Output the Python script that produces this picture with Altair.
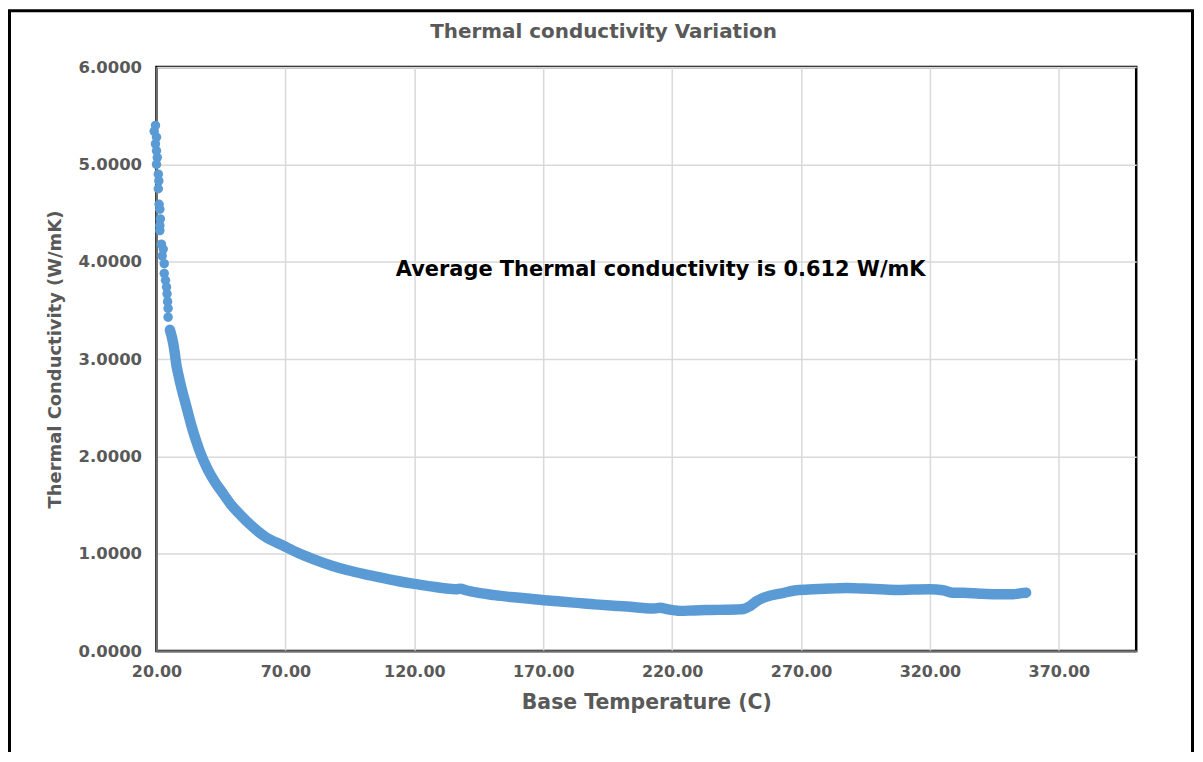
import altair as alt
import pandas as pd

# Sparse early samples (markers only)
sparse_T = [19.6, 19.1, 20.0, 19.6, 20.0, 20.3, 20.0, 20.7, 20.9, 20.7, 21.0, 21.3,
            21.5, 21.3, 21.3, 21.9, 22.6, 22.2, 23.0, 23.0, 23.5, 23.9, 24.1, 24.3,
            24.5, 24.5]
sparse_K = [5.40, 5.34, 5.28, 5.21, 5.14, 5.07, 5.00, 4.90, 4.83, 4.75, 4.59, 4.54,
            4.44, 4.37, 4.32, 4.18, 4.13, 4.06, 3.98, 3.88, 3.81, 3.74, 3.67, 3.59,
            3.52, 3.43]

# Dense continuous samples
curve_T = [25.2, 26.5, 27.1, 27.7, 28.4, 29.7, 31.0, 32.3, 33.5, 35.5, 37.4, 40.0,
           42.6, 45.8, 49.0, 52.9, 55.5, 61.9, 69.4, 74.8, 81.3, 87.7, 94.2, 100.6,
           107.1, 113.5, 120.0, 126.4, 131.6, 136.0, 138.0, 140.0, 144.5, 151.0, 157.4,
           163.8, 170.3, 176.7, 183.2, 189.6, 196.1, 202.5, 209.0, 213.0, 215.4, 218.0,
           223.2, 228.4, 234.8, 241.3, 245.0, 247.7, 250.3, 252.9, 256.7, 261.9, 268.3,
           274.8, 281.2, 287.7, 294.1, 300.6, 307.0, 313.5, 319.9, 325.1, 329.0, 332.9,
           339.3, 345.7, 352.2, 355.5, 357.3]
curve_K = [3.30, 3.16, 3.06, 2.94, 2.85, 2.70, 2.57, 2.44, 2.32, 2.15, 2.01, 1.86,
           1.74, 1.62, 1.50, 1.39, 1.32, 1.18, 1.08, 1.01, 0.94, 0.88, 0.83, 0.79,
           0.755, 0.72, 0.69, 0.665, 0.645, 0.635, 0.640, 0.625, 0.60, 0.575, 0.556,
           0.54, 0.522, 0.509, 0.495, 0.481, 0.468, 0.458, 0.442, 0.437, 0.445, 0.43,
           0.413, 0.418, 0.422, 0.425, 0.428, 0.432, 0.464, 0.515, 0.56, 0.59, 0.625,
           0.635, 0.642, 0.648, 0.642, 0.635, 0.628, 0.632, 0.635, 0.625, 0.60, 0.60,
           0.59, 0.584, 0.584, 0.595, 0.60]

x_ticks = [20, 70, 120, 170, 220, 270, 320, 370]
y_ticks = [0, 1, 2, 3, 4, 5, 6]

ann_text = ["Average Thermal conductivity is 0.612 W/mK"]
ann_T = [112.8]
ann_K = [3.91]

BLUE = "#5B9BD5"
GREY = "#595959"
FONT = "DejaVu Sans"

sparse = pd.DataFrame({"T": sparse_T, "K": sparse_K})
curve = pd.DataFrame({"T": curve_T, "K": curve_K, "order": list(range(len(curve_T)))})
ann = pd.DataFrame({"T": ann_T, "K": ann_K, "label": ann_text})

xs = alt.Scale(domain=[20, 400], nice=False, zero=False)
ys = alt.Scale(domain=[0, 6], nice=False)

x_axis = alt.Axis(values=x_ticks, format=".2f", title="Base Temperature (C)",
                  ticks=False, labelPadding=12, titlePadding=14, labelFlush=False,
                  labelFont=FONT, labelFontSize=16, labelFontWeight="bold",
                  labelColor=GREY, titleFont=FONT, titleFontSize=20.5,
                  titleFontWeight="bold", titleColor=GREY,
                  gridColor="#d9d9d9", gridWidth=1.5,
                  domainColor="#6e6e6e", domainWidth=2)
y_axis = alt.Axis(values=y_ticks, format=".4f", title="Thermal Conductivity (W/mK)",
                  ticks=False, labelPadding=15, titlePadding=14, labelFlush=False,
                  labelFont=FONT, labelFontSize=16.5, labelFontWeight="bold",
                  labelColor=GREY, titleFont=FONT, titleFontSize=18,
                  titleFontWeight="bold", titleColor=GREY,
                  gridColor="#d9d9d9", gridWidth=1.5,
                  domainColor="#6e6e6e", domainWidth=2)

one = pd.DataFrame({"a": [0]})
frame_left = alt.Chart(one).mark_rule(color="black", strokeWidth=3).encode(
    x=alt.value(-147.5), y=alt.value(-56.5), y2=alt.value(700))
frame_top = alt.Chart(one).mark_rule(color="black", strokeWidth=3).encode(
    x=alt.value(-149), x2=alt.value(1041), y=alt.value(-56.5))
frame_right = alt.Chart(one).mark_rule(color="black", strokeWidth=3).encode(
    x=alt.value(1039.5), y=alt.value(-56.5), y2=alt.value(700))

line = alt.Chart(curve).mark_line(
    color=BLUE, strokeWidth=10.5, strokeCap="round", strokeJoin="round",
    interpolate="monotone"
).encode(
    x=alt.X("T:Q", scale=xs, axis=x_axis),
    y=alt.Y("K:Q", scale=ys, axis=y_axis),
    order="order:Q",
)

pts_curve = alt.Chart(curve).mark_circle(color=BLUE, size=80, opacity=1).encode(
    x=alt.X("T:Q", scale=xs), y=alt.Y("K:Q", scale=ys)
)
pts_sparse = alt.Chart(sparse).mark_circle(color=BLUE, size=90, opacity=1).encode(
    x=alt.X("T:Q", scale=xs), y=alt.Y("K:Q", scale=ys)
)

text = alt.Chart(ann).mark_text(
    align="left", baseline="middle", font=FONT, fontSize=21,
    fontWeight="bold", color="black"
).encode(x=alt.X("T:Q", scale=xs), y=alt.Y("K:Q", scale=ys), text="label:N")

chart = alt.layer(frame_left, frame_top, frame_right, line, pts_curve, pts_sparse,
                  text).properties(
    width=983, height=586,
    padding={"left": 149, "top": 58, "right": 59, "bottom": 100},
    autosize=alt.AutoSizeParams(type="none"),
    title=alt.Title("Thermal conductivity Variation", font=FONT,
                    fontSize=20, fontWeight="bold", color=GREY, anchor="middle",
                    frame="group", dx=-43, offset=-33),
).configure(background="white").configure_view(stroke="black", strokeWidth=2.5)

chart.save("out.html", embed_options={"renderer": "svg", "actions": False})
